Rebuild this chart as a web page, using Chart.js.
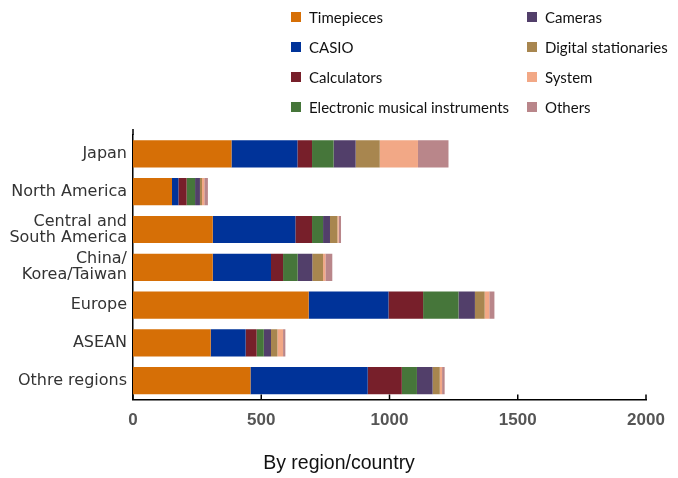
<!DOCTYPE html>
<html lang="en">
<head>
    <meta charset="UTF-8">
    <title>By region/country</title>
    <script src="https://cdn.jsdelivr.net/npm/chart.js"></script>
    <style>
        body { margin: 0; background: #fff; }
        .wrap { position: relative; width: 678px; height: 478px; }
        #legend { position: absolute; left: 291px; top: 6px; width: 387px; font-family: Lato, sans-serif; font-size: 15px; color: #111; }
        .item { position: absolute; display: flex; align-items: center; height: 22px; }
        .box { width: 10px; height: 10px; margin-right: 8px; }
    </style>
</head>
<body>
    <div class="wrap">
        <canvas id="barChart" width="678" height="478"></canvas>
        <div id="legend"></div>
    </div>

    <script>
        // categories (top to bottom)
        const regions = ['Japan', 'North America', ['Central and', 'South America'], ['China/', 'Korea/Taiwan'], 'Europe', 'ASEAN', 'Othre regions'];

        // series values
        const timepieces = [384, 152, 311, 311, 685, 303, 458];
        const casio = [257, 25, 322, 227, 311, 136, 457];
        const calculators = [57, 32, 65, 47, 135, 43, 133];
        const musical = [84, 33, 43, 57, 138, 28, 59];
        const cameras = [86, 19, 27, 57, 64, 28, 61];
        const stationaries = [94, 8, 29, 42, 38, 25, 28];
        const system = [149, 9, 5, 9, 18, 22, 9];
        const others = [119, 14, 9, 27, 20, 9, 10];

        const xTicks = [0, 500, 1000, 1500, 2000];

        const seriesNames = ['Timepieces', 'CASIO', 'Calculators', 'Electronic musical instruments', 'Cameras', 'Digital stationaries', 'System', 'Others'];
        const seriesData = [timepieces, casio, calculators, musical, cameras, stationaries, system, others];
        const colors = ['#d66f06', '#003399', '#771f2a', '#46763a', '#523f6a', '#a8864f', '#f2a886', '#b9868a'];

        const datasets = seriesNames.map((name, i) => ({
            label: name,
            data: seriesData[i],
            backgroundColor: colors[i],
            borderWidth: 0,
            barPercentage: 0.72,
            categoryPercentage: 1.0
        }));

        // Legend, two columns of four
        const legend = document.getElementById('legend');
        seriesNames.forEach((name, i) => {
            const el = document.createElement('div');
            el.className = 'item';
            el.style.left = (i < 4 ? 0 : 236) + 'px';
            el.style.top = ((i % 4) * 30) + 'px';
            el.innerHTML = '<span class="box" style="background:' + colors[i] + '"></span>' + name;
            legend.appendChild(el);
        });

        // center the bottom title on the whole canvas, not the padded box
        const wideTitle = {
            id: 'wideTitle',
            afterLayout(chart) {
                const t = chart.titleBlock;
                if (t) { t.left = 0; t.right = chart.width; t.width = chart.width; }
            }
        };

        // short tick marks pointing up from the x axis, and a slightly longer y axis line
        const innerTicks = {
            id: 'innerTicks',
            afterDraw(chart) {
                const c = chart.ctx, xs = chart.scales.x, a = chart.chartArea;
                c.save();
                c.strokeStyle = '#000';
                c.lineWidth = 1.5;
                c.beginPath();
                xTicks.forEach(v => {
                    const px = xs.getPixelForValue(v);
                    c.moveTo(px, a.bottom);
                    c.lineTo(px, a.bottom - 5);
                });
                c.moveTo(a.left, a.top);
                c.lineTo(a.left, a.top - 6);
                c.stroke();
                c.restore();
            }
        };

        const ctx = document.getElementById('barChart').getContext('2d');
        const barChart = new Chart(ctx, {
            type: 'bar',
            data: { labels: regions, datasets: datasets },
            plugins: [wideTitle, innerTicks],
            options: {
                indexAxis: 'y',
                responsive: false,
                animation: false,
                layout: { padding: { top: 135, right: 32, left: 0, bottom: 0 } },
                plugins: {
                    legend: { display: false },
                    tooltip: { enabled: false },
                    title: {
                        display: true,
                        position: 'bottom',
                        text: 'By region/country',
                        color: '#111',
                        font: { family: 'Liberation Sans, Arial', size: 19.5, weight: 'normal' },
                        padding: { top: 15, bottom: 3 }
                    }
                },
                scales: {
                    x: {
                        stacked: true,
                        min: 0,
                        max: 2000,
                        afterBuildTicks: s => { s.ticks = xTicks.map(v => ({ value: v })); },
                        afterFit: s => { s.height = 37; },
                        border: { display: true, color: '#000', width: 1.5 },
                        grid: { display: false, drawTicks: false, tickLength: 0 },
                        ticks: {
                            padding: 11,
                            color: '#555',
                            font: { family: 'Liberation Sans, Arial', size: 17, weight: 'bold' },
                            callback: v => String(v)
                        }
                    },
                    y: {
                        stacked: true,
                        afterFit: s => { s.width = 133; },
                        border: { display: true, color: '#000', width: 1.5 },
                        grid: { display: false, drawTicks: false, tickLength: 0 },
                        ticks: {
                            padding: 6,
                            color: '#333',
                            font: { family: 'DejaVu Sans', size: 16, lineHeight: 1.0 }
                        }
                    }
                }
            }
        });
    </script>
</body>
</html>
